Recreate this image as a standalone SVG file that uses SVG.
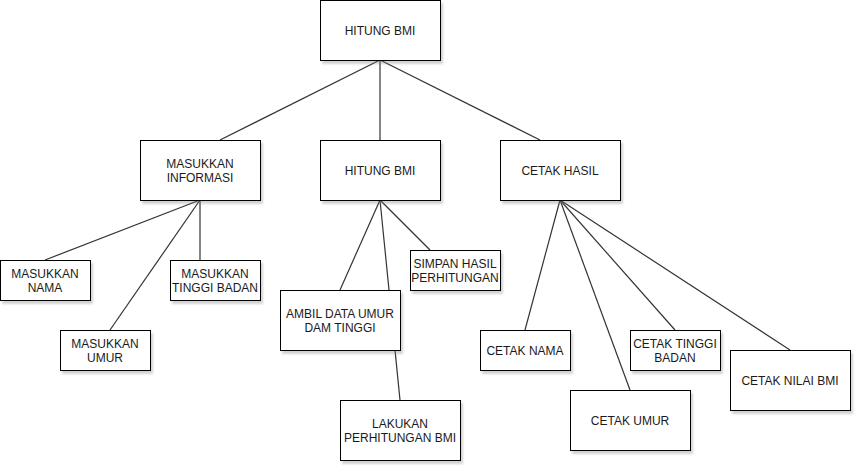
<svg xmlns="http://www.w3.org/2000/svg" width="862" height="472" viewBox="0 0 862 472">
<defs>
<filter id="sh" x="-10%" y="-10%" width="130%" height="140%">
<feDropShadow dx="2" dy="3" stdDeviation="1.2" flood-color="#808080" flood-opacity="0.35"/>
</filter>
</defs>
<style>
.box{fill:#ffffff;stroke:#000000;stroke-width:1;filter:url(#sh)}
.t{font-family:"Liberation Sans",Arial,sans-serif;font-size:12px;fill:#1a1a1a;text-anchor:middle}
.e{stroke:#333333;stroke-width:1.2;fill:none}
</style>
<rect width="862" height="472" fill="#ffffff"/>
<g id="connectors">
<line class="e" x1="380" y1="60" x2="220" y2="140"/>
<line class="e" x1="380" y1="60" x2="380" y2="140"/>
<line class="e" x1="380" y1="60" x2="540" y2="140"/>
<line class="e" x1="200" y1="200" x2="45" y2="260"/>
<line class="e" x1="200" y1="200" x2="110" y2="330"/>
<line class="e" x1="200" y1="200" x2="200" y2="260"/>
<line class="e" x1="380" y1="200" x2="340" y2="290"/>
<line class="e" x1="380" y1="200" x2="400" y2="400"/>
<line class="e" x1="380" y1="200" x2="430" y2="250"/>
<line class="e" x1="560" y1="200" x2="525" y2="330"/>
<line class="e" x1="560" y1="200" x2="630" y2="390"/>
<line class="e" x1="560" y1="200" x2="675" y2="330"/>
<line class="e" x1="560" y1="200" x2="790" y2="350"/>
</g>
<g id="root"><rect class="box" x="320.5" y="0.5" width="120" height="60"/><text class="t" x="380" y="34.5">HITUNG BMI</text></g>
<g id="masukkan-informasi"><rect class="box" x="140.5" y="140.5" width="120" height="60"/><text class="t" x="200" y="167.5">MASUKKAN</text><text class="t" x="200" y="181.5">INFORMASI</text></g>
<g id="hitung-bmi"><rect class="box" x="320.5" y="140.5" width="120" height="60"/><text class="t" x="380" y="174.5">HITUNG BMI</text></g>
<g id="cetak-hasil"><rect class="box" x="500.5" y="140.5" width="120" height="60"/><text class="t" x="560" y="174.5">CETAK HASIL</text></g>
<g id="masukkan-nama"><rect class="box" x="0.5" y="260.5" width="90" height="40"/><text class="t" x="45" y="277.5">MASUKKAN</text><text class="t" x="45" y="291.5">NAMA</text></g>
<g id="masukkan-umur"><rect class="box" x="60.5" y="330.5" width="90" height="40"/><text class="t" x="105" y="347.5">MASUKKAN</text><text class="t" x="105" y="361.5">UMUR</text></g>
<g id="masukkan-tinggi"><rect class="box" x="170.5" y="260.5" width="90" height="40"/><text class="t" x="215" y="277.5">MASUKKAN</text><text class="t" x="215" y="291.5">TINGGI BADAN</text></g>
<g id="simpan-hasil"><rect class="box" x="410.5" y="250.5" width="90" height="40"/><text class="t" x="455" y="267.5">SIMPAN HASIL</text><text class="t" x="455" y="281.5">PERHITUNGAN</text></g>
<g id="ambil-data"><rect class="box" x="280.5" y="290.5" width="120" height="60"/><text class="t" x="340" y="317.5">AMBIL DATA UMUR</text><text class="t" x="340" y="331.5">DAM TINGGI</text></g>
<g id="lakukan-perhitungan"><rect class="box" x="340.5" y="400.5" width="120" height="60"/><text class="t" x="400" y="427.5">LAKUKAN</text><text class="t" x="400" y="441.5">PERHITUNGAN BMI</text></g>
<g id="cetak-nama"><rect class="box" x="480.5" y="330.5" width="90" height="40"/><text class="t" x="525" y="354.5">CETAK NAMA</text></g>
<g id="cetak-umur"><rect class="box" x="570.5" y="390.5" width="120" height="60"/><text class="t" x="630" y="424.5">CETAK UMUR</text></g>
<g id="cetak-tinggi"><rect class="box" x="630.5" y="330.5" width="90" height="40"/><text class="t" x="675" y="347.5">CETAK TINGGI</text><text class="t" x="675" y="361.5">BADAN</text></g>
<g id="cetak-nilai"><rect class="box" x="730.5" y="350.5" width="120" height="60"/><text class="t" x="790" y="384.5">CETAK NILAI BMI</text></g>
</svg>
